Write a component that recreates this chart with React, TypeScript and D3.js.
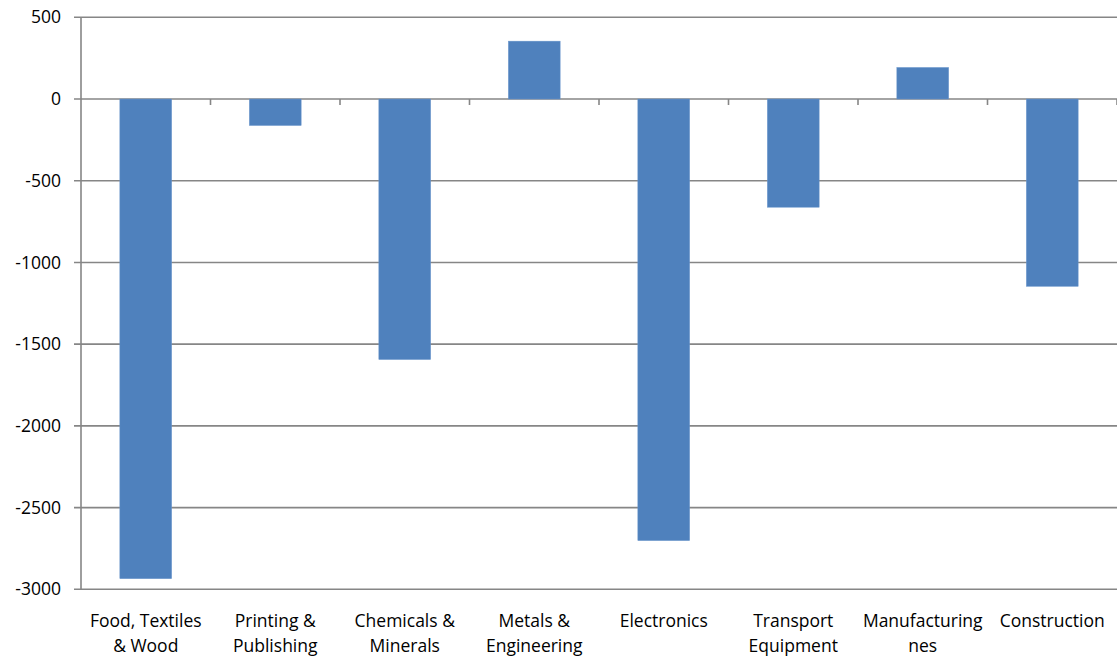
import React from "react";
import * as d3 from "d3";

const categories: string[][] = [
  ["Food, Textiles", "& Wood"],
  ["Printing &", "Publishing"],
  ["Chemicals &", "Minerals"],
  ["Metals &", "Engineering"],
  ["Electronics"],
  ["Transport", "Equipment"],
  ["Manufacturing", "nes"],
  ["Construction"],
];
const values: number[] = [-2935, -162, -1594, 354, -2702, -662, 193, -1146];
const yTicks: number[] = [500, 0, -500, -1000, -1500, -2000, -2500, -3000];

export default function App() {
  const W = 1117, H = 657;
  const left = 81, right = 1117, top = 17.3, bottom = 589.3;
  const x = d3.scaleBand<number>().domain(d3.range(values.length)).range([left, right]).paddingInner(0.6).paddingOuter(0.3);
  const band = d3.scaleBand<number>().domain(d3.range(values.length)).range([left, right]);
  const y = d3.scaleLinear().domain([-3000, 500]).range([bottom, top]);
  const grid = "#868686";
  const font = "'Open Sans', sans-serif";
  return (
    <svg width={W} height={H} style={{ position: "absolute", left: 0, top: 0 }}>
      <rect width={W} height={H} fill="#fff" />
      {yTicks.map((t) => (
        <g key={t}>
          <line x1={left - 7} x2={right} y1={y(t)} y2={y(t)} stroke={grid} strokeWidth={1.6} />
          <text x={61} y={y(t)} dy="0.35em" textAnchor="end" fontFamily={font} fontSize={17.5} fill="#000">{t}</text>
        </g>
      ))}
      <line x1={left} x2={left} y1={top} y2={bottom} stroke={grid} strokeWidth={1.6} />
      {d3.range(values.length + 1).map((i) => {
        const xx = i < values.length ? band(i)! : right;
        return i === 0 ? null : <line key={i} x1={xx} x2={xx} y1={y(0)} y2={y(0) + 6} stroke={grid} strokeWidth={1.6} />;
      })}
      {values.map((v, i) => (
        <rect key={i} x={x(i)} width={x.bandwidth()} y={y(Math.max(0, v))} height={Math.abs(y(v) - y(0))} fill="#4f81bd" stroke="#6a96cc" strokeWidth={0.5} />
      ))}
      {categories.map((lines, i) => (
        <text key={i} x={band(i)! + band.bandwidth() / 2} y={627} textAnchor="middle" fontFamily={font} fontSize={17.5} fill="#000">
          {lines.map((l, j) => (
            <tspan key={j} x={band(i)! + band.bandwidth() / 2} dy={j === 0 ? 0 : 25}>{l}</tspan>
          ))}
        </text>
      ))}
    </svg>
  );
}
